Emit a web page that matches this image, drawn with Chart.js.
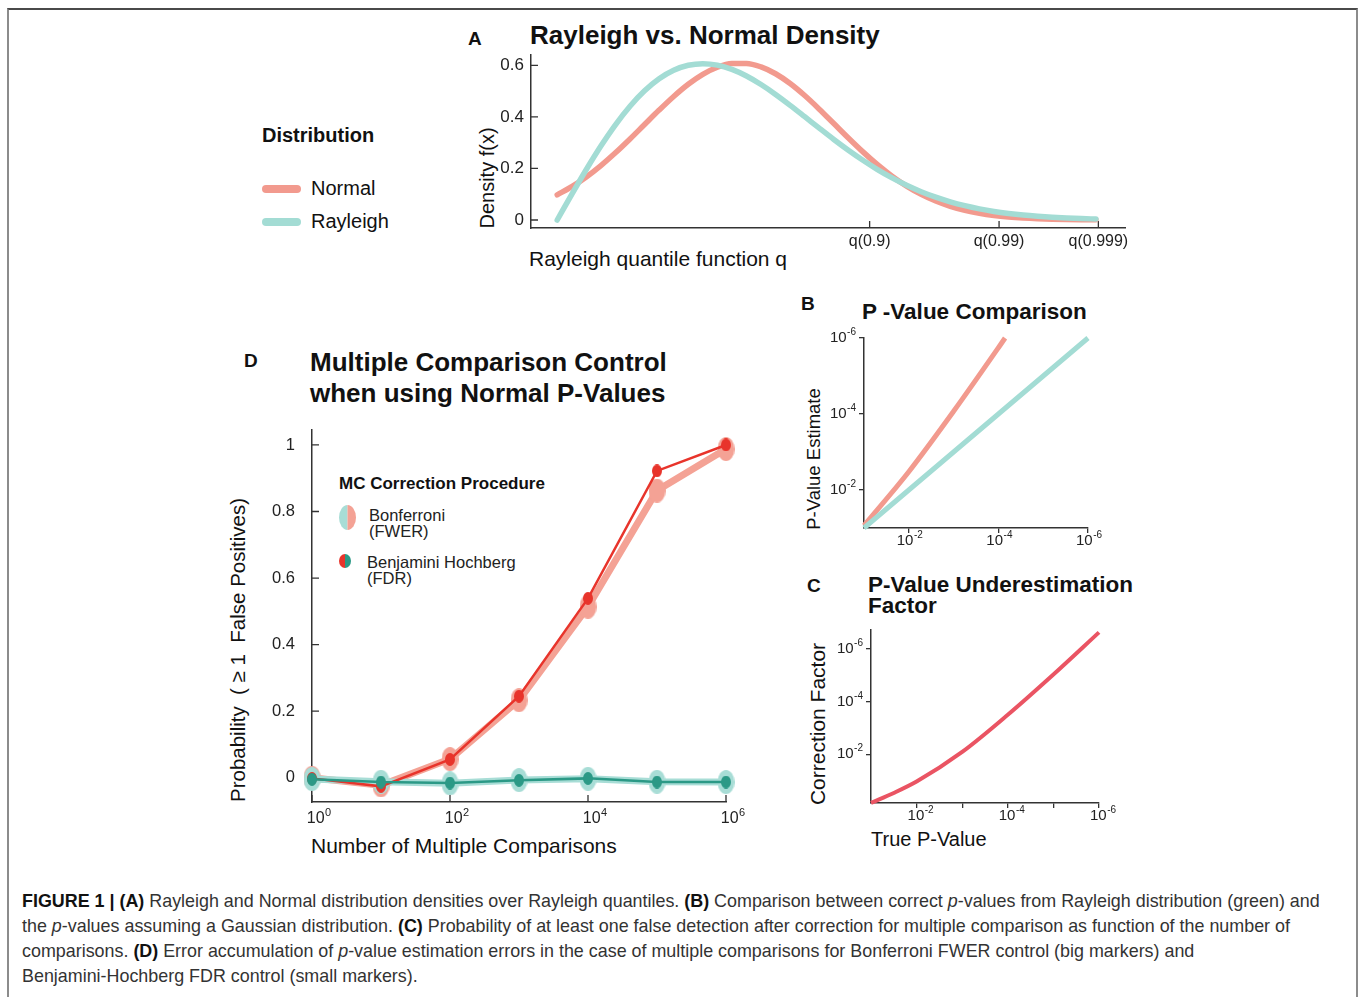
<!DOCTYPE html>
<html>
<head>
<meta charset="utf-8">
<script src="https://cdn.jsdelivr.net/npm/chart.js@4.4.1/dist/chart.umd.min.js"></script>
<style>
  html, body { margin: 0; padding: 0; background: #fff; }
  body { width: 1360px; height: 997px; position: relative; overflow: hidden;
         font-family: "Liberation Sans", Arial, Helvetica, sans-serif; color: #111; }
  .frame { position: absolute; left: 7px; top: 8px; width: 1351px; height: 1010px; box-sizing: border-box;
           border-left: 2px solid #8c8c8c; border-right: 2px solid #8c8c8c; border-top: 2px solid #4a4a4a; }
  .t { position: absolute; white-space: pre; }
  canvas { position: absolute; }
  .caption { position: absolute; left: 22px; top: 889px; font-size: 17.9px; line-height: 25px; color: #333; white-space: nowrap; }
  .caption b { color: #111; }
</style>
</head>
<body>
<div class="frame"></div>

<div class="caption">
<b>FIGURE 1 | (A)</b> Rayleigh and Normal distribution densities over Rayleigh quantiles. <b>(B)</b> Comparison between correct <i>p</i>-values from Rayleigh distribution (green) and<br>
the <i>p</i>-values assuming a Gaussian distribution. <b>(C)</b> Probability of at least one false detection after correction for multiple comparison as function of the number of<br>
comparisons. <b>(D)</b> Error accumulation of <i>p</i>-value estimation errors in the case of multiple comparisons for Bonferroni FWER control (big markers) and<br>
Benjamini-Hochberg FDR control (small markers).
</div>

<script>
// ---------- Panel A: densities over the Rayleigh variable ----------
const densityX = [0, 0.1, 0.2, 0.3, 0.4, 0.5, 0.6, 0.7, 0.8, 0.9, 1.0, 1.1, 1.2, 1.3, 1.4, 1.5, 1.6, 1.7, 1.8, 1.9,
                  2.0, 2.1, 2.2, 2.3, 2.4, 2.5, 2.6, 2.7, 2.8, 2.9, 3.0, 3.1, 3.2, 3.3, 3.4, 3.5, 3.6, 3.7];
const rayleighDensity = [0, 0.0995, 0.196, 0.2868, 0.3692, 0.4412, 0.5012, 0.5479, 0.5809, 0.6003, 0.6065, 0.6007,
                  0.5841, 0.5585, 0.5254, 0.4870, 0.4448, 0.4007, 0.3562, 0.3125, 0.2707, 0.2316, 0.1956, 0.1633,
                  0.1347, 0.1098, 0.0885, 0.0705, 0.0556, 0.0433, 0.0333, 0.0254, 0.0191, 0.0143, 0.0105, 0.0077,
                  0.0055, 0.0039];
const normalDensity = [0.0977, 0.1294, 0.1672, 0.2113, 0.2608, 0.3144, 0.3705, 0.4263, 0.4793, 0.5266, 0.5651,
                  0.5926, 0.6070, 0.6075, 0.5939, 0.5673, 0.5294, 0.4827, 0.4300, 0.3742, 0.3181, 0.2642, 0.2144,
                  0.1700, 0.1317, 0.0996, 0.0736, 0.0532, 0.0375, 0.0259, 0.0174, 0.0115, 0.0074, 0.0046, 0.0028,
                  0.0017, 0.0010, 0.0006];
const quantileTicks  = [2.146, 3.035, 3.717];
const quantileLabels = ['q(0.9)', 'q(0.99)', 'q(0.999)'];
const densityTicks   = [0, 0.2, 0.4, 0.6];
const densityLabels  = ['0', '0.2', '0.4', '0.6'];

// ---------- Panel B: p-value estimate vs true p-value ----------
const pTrueRayleigh = [1e-1, 1e-2, 1e-3, 1e-4, 1e-5, 1e-6];
const pEstRayleigh  = [1e-1, 1e-2, 1e-3, 1e-4, 1e-5, 1e-6];
const pTrueNormal   = [1e-1, 1e-2, 1e-3, 1e-4, 7.1e-5];
const pEstNormal    = [8.6e-2, 3.3e-3, 8.5e-5, 1.8e-6, 1.0e-6];
const pTicks        = [1e-2, 1e-4, 1e-6];
const pTickExps     = ['-2', '-4', '-6'];

// ---------- Panel C: underestimation factor ----------
const pTrueFactor      = [1e-1, 3.16e-2, 1e-2, 1e-3, 1e-4, 1e-5, 1e-6];
const correctionFactor = [0.70, 0.295, 0.109, 8.2e-3, 3.2e-4, 9.5e-6, 2.4e-7];
const factorXTicks     = [1e-2, 1e-3, 1e-4, 1e-5, 1e-6];
const factorXExps      = ['-2', '', '-4', '', '-6'];
const factorYTicks     = [1e-2, 1e-4, 1e-6];
const factorYExps      = ['-2', '-4', '-6'];

// ---------- Panel D: probability of >= 1 false positive ----------
const comparisons  = [1, 10, 100, 1e3, 1e4, 1e5, 1e6];
const bonfNormal   = [0.0, -0.023, 0.056, 0.233, 0.514, 0.863, 0.988];
const bhNormal     = [-0.002, -0.026, 0.055, 0.245, 0.539, 0.922, 1.0];
const bonfRayleigh = [-0.004, -0.012, -0.017, -0.007, -0.003, -0.012, -0.013];
const bhRayleigh   = [-0.005, -0.013, -0.016, -0.008, -0.002, -0.013, -0.013];
const compTicks    = [1, 100, 1e4, 1e6];
const compExps     = ['0', '2', '4', '6'];
const probTicks    = [0, 0.2, 0.4, 0.6, 0.8, 1];
const probLabels   = ['0', '0.2', '0.4', '0.6', '0.8', '1'];

// ---------- colours ----------
const C_NORMAL = '#f29a8e', C_RAYLEIGH = '#a3dcd4', C_FACTOR = '#ea5463';
const C_RED = '#e8342b', C_DTEAL = '#2b9986', C_SALMON = '#f4a295', C_LTEAL = '#a8ddd6';
const AXIS = '#333';
const FONT = '"Liberation Sans", Arial, Helvetica, sans-serif';

Chart.defaults.font.family = FONT;
Chart.defaults.color = '#222';

// ---------- helpers ----------
function text(x, cy, str, size, bold, color) {
  const d = document.createElement('div');
  d.className = 't';
  d.textContent = str;
  const lh = Math.round(size * 1.2);
  d.style.cssText = `left:${x}px;top:${cy - lh / 2}px;font-size:${size}px;line-height:${lh}px;` +
    `font-weight:${bold ? 'bold' : 'normal'};color:${color || '#111'};`;
  document.body.appendChild(d);
  return d;
}
function vtext(cx, cy, str, size, color) {
  const d = document.createElement('div');
  d.className = 't';
  d.textContent = str;
  d.style.cssText = `left:${cx}px;top:${cy}px;font-size:${size}px;line-height:1;color:${color || '#111'};` +
    `transform:translate(-50%,-50%) rotate(-90deg);`;
  document.body.appendChild(d);
}
function canvasAt(x, y, w, h) {
  const c = document.createElement('canvas');
  c.width = w; c.height = h;
  c.style.left = x + 'px'; c.style.top = y + 'px';
  c.style.width = w + 'px'; c.style.height = h + 'px';
  document.body.appendChild(c);
  return c;
}
function ellipseImg(w, h, color) {
  const c = document.createElement('canvas');
  c.width = w; c.height = h;
  const g = c.getContext('2d');
  g.fillStyle = color;
  g.beginPath();
  g.ellipse(w / 2, h / 2, w / 2, h / 2, 0, 0, Math.PI * 2);
  g.fill();
  return c;
}
function splitEllipse(x, cy, w, h, left, right) {
  const c = canvasAt(x - w / 2, cy - h / 2, w, h);
  const g = c.getContext('2d');
  g.beginPath();
  g.ellipse(w / 2, h / 2, w / 2, h / 2, 0, 0, Math.PI * 2);
  g.clip();
  g.fillStyle = left;  g.fillRect(0, 0, w / 2, h);
  g.fillStyle = right; g.fillRect(w / 2, 0, w / 2, h);
}
const pts = (xs, ys) => xs.map((v, i) => ({ x: v, y: ys[i] }));

// fixed axis sizes so the plot areas sit where they should
const fixW = w => s => { s.width = w; s.paddingTop = 0; s.paddingBottom = 0; };
const fixH = h => s => { s.height = h; s.paddingLeft = 0; s.paddingRight = 0; };

// tick marks drawn inward from the axes
const inwardTicks = {
  id: 'inwardTicks',
  beforeDatasetsDraw(chart, args, o) {
    const ctx = chart.ctx, ca = chart.chartArea;
    const xs = chart.scales.x, ys = chart.scales.y;
    ctx.save();
    ctx.strokeStyle = o.color; ctx.lineWidth = o.width;
    ctx.beginPath();
    xs.ticks.forEach(t => { const p = xs.getPixelForValue(t.value); ctx.moveTo(p, ca.bottom); ctx.lineTo(p, ca.bottom - o.len); });
    ys.ticks.forEach(t => { const p = ys.getPixelForValue(t.value); ctx.moveTo(ca.left, p); ctx.lineTo(ca.left + o.len, p); });
    ctx.stroke();
    ctx.restore();
  }
};

// power-of-ten tick labels ("10" with a raised exponent)
const powerLabels = {
  id: 'powerLabels',
  afterDraw(chart, args, o) {
    const ctx = chart.ctx, ca = chart.chartArea;
    ctx.save();
    ctx.fillStyle = o.color || '#222';
    ctx.textBaseline = 'middle';
    ctx.textAlign = 'left';
    ['x', 'y'].forEach(k => {
      const spec = o[k];
      if (!spec) return;
      const sc = chart.scales[k];
      const F = spec.size, f = Math.round(F * 0.66);
      sc.ticks.forEach((t, i) => {
        const e = spec.exps[i];
        if (!e) return;
        const p = sc.getPixelForValue(t.value);
        ctx.font = `${F}px ${FONT}`;
        const wb = ctx.measureText('10').width;
        ctx.font = `${f}px ${FONT}`;
        const we = ctx.measureText(e).width;
        const tot = wb + 0.5 + we;
        let x0, cy;
        if (k === 'x') { x0 = p - tot / 2 + (spec.shift || 0); cy = ca.bottom + spec.offset; }
        else { x0 = ca.left - spec.offset - tot; cy = p; }
        ctx.font = `${F}px ${FONT}`;
        ctx.fillText('10', x0, cy);
        ctx.font = `${f}px ${FONT}`;
        ctx.fillText(e, x0 + wb + 0.5, cy - F * 0.38);
      });
    });
    ctx.restore();
  }
};

function axis(type, extra) {
  return Object.assign({
    type,
    border: { display: true, color: AXIS, width: 1.5 },
    grid: { display: false, drawTicks: false },
    ticks: { autoSkip: false, maxRotation: 0, minRotation: 0, color: '#222' }
  }, extra);
}
function outGrid() {
  return { display: true, drawOnChartArea: false, drawTicks: true, tickLength: 5, color: AXIS, lineWidth: 1.3 };
}
const hiddenTicks = { display: false, autoSkip: false };
const baseOpts = { responsive: false, animation: false, devicePixelRatio: 1, events: [] };

// ================= Panel A =================
text(468, 38, 'A', 19, true);
text(530, 35, 'Rayleigh vs. Normal Density', 26, true);
text(262, 135, 'Distribution', 20, true);
text(311, 188, 'Normal', 20, false);
text(311, 221, 'Rayleigh', 20, false);
(function legendLines() {
  [[189, C_NORMAL], [222, C_RAYLEIGH]].forEach(([cy, col]) => {
    const d = document.createElement('div');
    d.style.cssText = `position:absolute;left:262px;top:${cy - 4}px;width:39px;height:8px;border-radius:4px;background:${col};`;
    document.body.appendChild(d);
  });
})();
vtext(487, 178, 'Density f(x)', 20);
text(529, 258, 'Rayleigh quantile function q', 21, false);

new Chart(canvasAt(440, 45, 720, 215), {
  type: 'line',
  data: {
    datasets: [
      { label: 'Normal', data: pts(densityX, normalDensity), borderColor: C_NORMAL, borderWidth: 5.5,
        pointRadius: 0, cubicInterpolationMode: 'monotone', borderCapStyle: 'round', order: 2, clip: false },
      { label: 'Rayleigh', data: pts(densityX, rayleighDensity), borderColor: C_RAYLEIGH, borderWidth: 5.5,
        pointRadius: 0, cubicInterpolationMode: 'monotone', borderCapStyle: 'round', order: 1, clip: false }
    ]
  },
  options: Object.assign({}, baseOpts, {
    layout: { autoPadding: false, padding: { top: 10, right: 35, left: 0, bottom: 0 } },
    plugins: { legend: { display: false }, tooltip: { enabled: false },
               inwardTicks: { len: 7, color: AXIS, width: 1.3 } },
    scales: {
      x: axis('linear', {
        min: -0.18, max: 3.9,
        afterFit: fixH(32),
        afterBuildTicks: s => { s.ticks = quantileTicks.map(v => ({ value: v })); },
        ticks: { autoSkip: false, maxRotation: 0, minRotation: 0, padding: 4, font: { size: 16 },
                 callback: (v, i) => quantileLabels[i] }
      }),
      y: axis('linear', {
        min: -0.031, max: 0.64,
        afterFit: fixW(91),
        afterBuildTicks: s => { s.ticks = densityTicks.map(v => ({ value: v })); },
        ticks: { autoSkip: false, padding: 7, font: { size: 17 }, callback: (v, i) => densityLabels[i] }
      })
    }
  }),
  plugins: [inwardTicks]
});

// ================= Panel B =================
text(801, 303, 'B', 19, true);
text(862, 311, 'P -Value Comparison', 22.5, true);
vtext(814, 459, 'P-Value Estimate', 18.5);

new Chart(canvasAt(820, 325, 290, 225), {
  type: 'line',
  data: {
    datasets: [
      { label: 'Normal', data: pts(pTrueNormal, pEstNormal), borderColor: C_NORMAL, borderWidth: 5,
        pointRadius: 0, cubicInterpolationMode: 'monotone', order: 2, clip: false },
      { label: 'Rayleigh', data: pts(pTrueRayleigh, pEstRayleigh), borderColor: C_RAYLEIGH, borderWidth: 5,
        pointRadius: 0, order: 1, clip: false }
    ]
  },
  options: Object.assign({}, baseOpts, {
    layout: { autoPadding: false, padding: { top: 13, right: 22, left: 0, bottom: 0 } },
    plugins: { legend: { display: false }, tooltip: { enabled: false },
               powerLabels: { x: { exps: pTickExps, size: 15, offset: 13, shift: 1 },
                              y: { exps: pTickExps, size: 15, offset: 8 } } },
    scales: {
      x: axis('logarithmic', {
        min: 1e-6, max: 1e-1, reverse: true, grid: outGrid(), ticks: hiddenTicks,
        afterFit: fixH(22),
        afterBuildTicks: s => { s.ticks = pTicks.map(v => ({ value: v })); }
      }),
      y: axis('logarithmic', {
        min: 1e-6, max: 1e-1, reverse: true, grid: outGrid(), ticks: hiddenTicks,
        afterFit: fixW(44),
        afterBuildTicks: s => { s.ticks = pTicks.map(v => ({ value: v })); }
      })
    }
  }),
  plugins: [powerLabels]
});

// ================= Panel C =================
text(807, 585, 'C', 19, true);
text(868, 584, 'P-Value Underestimation', 22.5, true);
text(868, 605, 'Factor', 22.5, true);
vtext(817, 724, 'Correction Factor', 21);
text(871, 839, 'True P-Value', 20, false);

new Chart(canvasAt(825, 615, 300, 212), {
  type: 'line',
  data: {
    datasets: [
      { label: 'Factor', data: pts(pTrueFactor, correctionFactor), borderColor: C_FACTOR, borderWidth: 4,
        pointRadius: 0, cubicInterpolationMode: 'monotone', clip: false }
    ]
  },
  options: Object.assign({}, baseOpts, {
    layout: { autoPadding: false, padding: { top: 15, right: 26, left: 0, bottom: 0 } },
    plugins: { legend: { display: false }, tooltip: { enabled: false },
               powerLabels: { x: { exps: factorXExps, size: 15, offset: 13, shift: 4 },
                              y: { exps: factorYExps, size: 15, offset: 8 } } },
    scales: {
      x: axis('logarithmic', {
        min: 1e-6, max: 1e-1, reverse: true, grid: outGrid(), ticks: hiddenTicks,
        afterFit: fixH(24),
        afterBuildTicks: s => { s.ticks = factorXTicks.map(v => ({ value: v })); }
      }),
      y: axis('logarithmic', {
        min: 1.95e-7, max: 0.708, reverse: true, grid: outGrid(), ticks: hiddenTicks,
        afterFit: fixW(46),
        afterBuildTicks: s => { s.ticks = factorYTicks.map(v => ({ value: v })); }
      })
    }
  }),
  plugins: [powerLabels]
});

// ================= Panel D =================
text(244, 360, 'D', 19, true);
text(310, 362, 'Multiple Comparison Control', 26, true);
text(310, 393, 'when using Normal P-Values', 26, true);
text(339, 484, 'MC Correction Procedure', 17, true);
text(369, 515, 'Bonferroni', 16.5, false, '#222');
text(369, 531, '(FWER)', 16.5, false, '#222');
text(367, 562, 'Benjamini Hochberg', 16.5, false, '#222');
text(367, 578, '(FDR)', 16.5, false, '#222');
splitEllipse(347, 517, 17, 25, C_LTEAL, C_SALMON);
splitEllipse(345, 561, 12, 14, C_RED, C_DTEAL);
vtext(238, 650, 'Probability  ( \u2265 1  False Positives)', 20.5);
text(311, 845, 'Number of Multiple Comparisons', 21, false);

const bigSalmon = ellipseImg(17, 24, C_SALMON);
const bigTeal   = ellipseImg(17, 24, C_LTEAL);
const smallRed  = ellipseImg(10, 13, C_RED);
const smallTeal = ellipseImg(10, 13, C_DTEAL);

new Chart(canvasAt(250, 425, 500, 410), {
  type: 'line',
  data: {
    datasets: [
      { label: 'Bonferroni (Normal)', data: pts(comparisons, bonfNormal), borderColor: C_SALMON, borderWidth: 7,
        pointStyle: bigSalmon, pointRadius: 8, order: 4, clip: false, borderJoinStyle: 'round' },
      { label: 'Bonferroni (Rayleigh)', data: pts(comparisons, bonfRayleigh), borderColor: C_LTEAL, borderWidth: 7,
        pointStyle: bigTeal, pointRadius: 8, order: 3, clip: false, borderJoinStyle: 'round' },
      { label: 'Benjamini Hochberg (Normal)', data: pts(comparisons, bhNormal), borderColor: C_RED, borderWidth: 2.5,
        pointStyle: smallRed, pointRadius: 5, order: 2, clip: false },
      { label: 'Benjamini Hochberg (Rayleigh)', data: pts(comparisons, bhRayleigh), borderColor: C_DTEAL, borderWidth: 2.5,
        pointStyle: smallTeal, pointRadius: 5, order: 1, clip: false }
    ]
  },
  options: Object.assign({}, baseOpts, {
    layout: { autoPadding: false, padding: { top: 5, right: 24, left: 0, bottom: 0 } },
    plugins: { legend: { display: false }, tooltip: { enabled: false },
               inwardTicks: { len: 7, color: AXIS, width: 1.3 },
               powerLabels: { x: { exps: compExps, size: 16, offset: 17, shift: 7 } } },
    scales: {
      x: axis('logarithmic', {
        min: 1, max: 1e6, ticks: hiddenTicks,
        afterFit: fixH(33),
        afterBuildTicks: s => { s.ticks = compTicks.map(v => ({ value: v })); }
      }),
      y: axis('linear', {
        min: -0.073, max: 1.045,
        afterFit: fixW(62),
        afterBuildTicks: s => { s.ticks = probTicks.map(v => ({ value: v })); },
        ticks: { autoSkip: false, padding: 17, font: { size: 16.5 }, callback: (v, i) => probLabels[i] }
      })
    }
  }),
  plugins: [inwardTicks, powerLabels]
});
</script>
</body>
</html>
